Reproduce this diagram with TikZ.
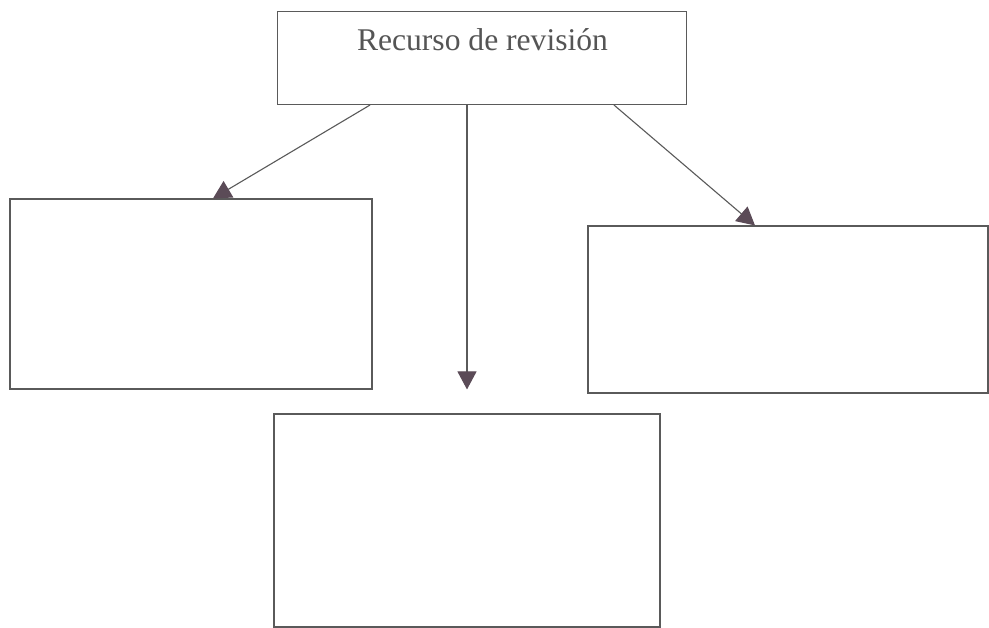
\documentclass[tikz,border=0pt]{standalone}
\usepackage{fontspec}
\setmainfont{Liberation Serif}
\usetikzlibrary{arrows.meta,calc}
\definecolor{linegray}{HTML}{5A5A5A}
\definecolor{tipcol}{HTML}{5B4B57}
\definecolor{textgray}{HTML}{555555}
\begin{document}
\begin{tikzpicture}[x=1pt,y=-1pt,
  box/.style={draw=linegray,line width=1.1pt,rectangle,inner sep=0pt},
  conn/.style={draw=linegray,line width=1.1pt,-{Triangle[length=18pt,width=19pt,color=tipcol]}}]
\useasboundingbox (0,0) rectangle (989,628);
\fill[white] (0,0) rectangle (989,628);
\node[box,minimum width=409pt,minimum height=93pt] (top) at (482,58) {};
\node[text=textgray,font=\fontsize{31.6}{38}\selectfont,inner sep=0pt] (title) at (482.5,40) {Recurso de revisión};
\node[box,minimum width=362pt,minimum height=190pt] (left) at (191,294) {};
\node[box,minimum width=400pt,minimum height=167pt] (right) at (788,309.5) {};
\node[box,minimum width=386pt,minimum height=213pt] (bottom) at (467,520.5) {};
\draw[conn] ([xshift=-112pt]top.south) -- ([xshift=22pt]left.north);
\draw[conn] ([xshift=-15pt]top.south) -- ([yshift=24pt]bottom.north);
\draw[conn] ([xshift=132pt]top.south) -- ([xshift=-33pt]right.north);
\end{tikzpicture}
\end{document}
